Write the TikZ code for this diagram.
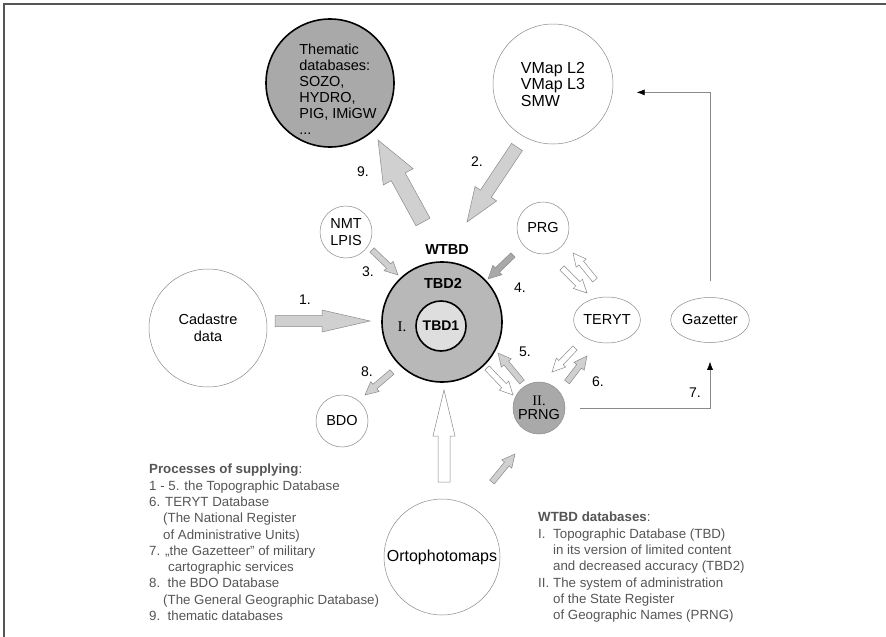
\documentclass[tikz,border=0pt]{standalone}
\usepackage{fontspec}
\setmainfont{Liberation Sans}
\newfontfamily\romfont{Liberation Serif}
\usetikzlibrary{calc,arrows.meta,shapes.geometric}

\definecolor{darkfill}{HTML}{A9A9A9}
\definecolor{midfill}{HTML}{B8B8B8}
\definecolor{lightfill}{HTML}{DEDEDE}
\definecolor{arrfill}{HTML}{D0D0D0}
\definecolor{arrline}{HTML}{8A8A8A}
\definecolor{legtext}{HTML}{555555}

% block arrow: [style]{tail}{tip}{shaft half width}{head half width}{head length}
\newcommand\fatarrow[6][]{%
  \path ($(#3)!#6!(#2)$) coordinate (fah);
  \draw[#1] ($(#2)!#4!90:(#3)$) -- ($(fah)!#4!-90:(#2)$) -- ($(fah)!#5!-90:(#2)$) -- (#3)
    -- ($(fah)!#5!90:(#2)$) -- ($(fah)!#4!90:(#2)$) -- ($(#2)!#4!-90:(#3)$) -- cycle;
}

\begin{document}
\begin{tikzpicture}[x=1pt,y=-1pt,
  db/.style={circle,draw=arrline,line width=0.5pt,fill=white,inner sep=0pt,align=center,
    font=\fontsize{14.5pt}{16.5pt}\selectfont},
  dbell/.style={ellipse,draw=arrline,line width=0.5pt,fill=white,inner sep=0pt,
    font=\fontsize{14.5pt}{16.5pt}\selectfont},
  core/.style={circle,draw=black,line width=1.6pt,inner sep=0pt},
  greyarr/.style={draw=arrline,fill=arrfill,line width=0.5pt},
  darkarr/.style={draw=arrline,fill=darkfill,line width=0.5pt},
  whitearr/.style={draw=arrline,fill=white,line width=0.5pt},
  num/.style={inner sep=0pt,font=\fontsize{14pt}{16pt}\selectfont},
  link/.style={draw=arrline,line width=0.6pt,-{Latex[color=black,length=8pt,width=6pt]}},
  legend/.style={align=left,inner sep=0pt,text=legtext,font=\fontsize{13.3pt}{16.3pt}\selectfont}]
\useasboundingbox (0,0) rectangle (886,637);
% frame
\draw[legtext,line width=2pt] (4,637) -- (4,4) -- (886,4);

% outer databases
\node[db,minimum size=128pt,fill=darkfill,draw=black,line width=1.6pt] (them) at (330,83) {};
\node[align=left,inner sep=0pt,font=\fontsize{14.5pt}{16pt}\selectfont] (themtxt) at ($(them)+(8,6)$)
  {Thematic\\databases:\\SOZO,\\HYDRO,\\PIG, IMiGW\\...};
\node[db,minimum size=120pt,align=left,font=\fontsize{16pt}{16.5pt}\selectfont] (vmap) at (553,84) {VMap L2\\VMap L3\\SMW};
\node[db,minimum size=52pt] (nmt) at (346,232) {NMT\\LPIS};
\node[db,minimum size=52pt] (prg) at (543,228) {PRG};
\node[db,minimum size=118pt] (cad) at (208,328) {Cadastre\\data};
\node[db,minimum size=52pt] (bdo) at (342,421) {BDO};
\node[dbell,minimum width=61pt,minimum height=46pt] (teryt) at (607,320) {TERYT};
\node[dbell,minimum width=74pt,minimum height=45pt] (gaz) at (710,320) {Gazetter};
\node[db,minimum size=52pt,fill=darkfill] (prng) at (539,408) {{\romfont II.}\\[-3pt]PRNG};
\node[db,minimum size=116pt,font=\fontsize{16pt}{18pt}\selectfont] (orto) at (442,557) {Ortophotomaps};

% WTBD core
\node[core,minimum size=120pt,fill=midfill] (wtbd) at (442,322) {};
\node[core,minimum size=50pt,fill=lightfill,font=\bfseries\fontsize{14pt}{16pt}\selectfont] (tbd1) at (441,326) {TBD1};
\node[inner sep=0pt,font=\bfseries\fontsize{14.5pt}{16pt}\selectfont] (wtbdlbl) at (447,250) {WTBD};
\node[inner sep=0pt,font=\bfseries\fontsize{14.5pt}{16pt}\selectfont] (tbd2lbl) at (443,283) {TBD2};
\node[inner sep=0pt,font=\romfont\fontsize{15pt}{16pt}\selectfont] (onelbl) at (402,327) {I.};

% block arrows
\coordinate (s1) at (275,321); \coordinate (e1) at (370,321);
\fatarrow[greyarr]{s1}{e1}{5.5pt}{11pt}{48pt}
\coordinate (s2) at (517,147); \coordinate (e2) at (467,222);
\fatarrow[greyarr]{s2}{e2}{6.5pt}{13pt}{34pt}
\coordinate (s9) at (423,222); \coordinate (e9) at (378,140);
\fatarrow[greyarr]{s9}{e9}{8pt}{17pt}{42pt}
\coordinate (s3) at (372,250); \coordinate (e3) at (398,275);
\fatarrow[greyarr]{s3}{e3}{3pt}{6.5pt}{13pt}
\coordinate (s8) at (392,372); \coordinate (e8) at (365,395);
\fatarrow[greyarr]{s8}{e8}{3pt}{6.5pt}{13pt}
\coordinate (s4) at (513,255); \coordinate (e4) at (488,279);
\fatarrow[darkarr]{s4}{e4}{3pt}{6.5pt}{13pt}
\coordinate (sa) at (562,268); \coordinate (ea) at (587,293);
\fatarrow[whitearr]{sa}{ea}{3pt}{6.5pt}{13pt}
\coordinate (sb) at (595,280); \coordinate (eb) at (573,253);
\fatarrow[whitearr]{sb}{eb}{3pt}{6.5pt}{13pt}
\coordinate (sc) at (575,348); \coordinate (ec) at (552,372);
\fatarrow[whitearr]{sc}{ec}{3pt}{6.5pt}{13pt}
\coordinate (s6) at (567,382); \coordinate (e6) at (587,356);
\fatarrow[greyarr]{s6}{e6}{3pt}{6.5pt}{13pt}
\coordinate (sd) at (487,368); \coordinate (ed) at (513,395);
\fatarrow[whitearr]{sd}{ed}{3pt}{6.5pt}{13pt}
\coordinate (s5) at (522,382); \coordinate (e5) at (498,353);
\fatarrow[greyarr]{s5}{e5}{3pt}{6.5pt}{13pt}
\coordinate (so) at (444,482); \coordinate (eo) at (444,390);
\fatarrow[whitearr]{so}{eo}{6pt}{11pt}{46pt}
\coordinate (sp) at (492,482); \coordinate (ep) at (515,454);
\fatarrow[greyarr]{sp}{ep}{3pt}{6.5pt}{13pt}

% thin links
\draw[link,shorten <=15pt,shorten >=19pt] (prng.east) -| (gaz.south);
\draw[link,shorten <=16pt,shorten >=24pt] (gaz.north) |- (vmap.-8);

% process numbers
\node[num] (n1) at (305,300) {1.};
\node[num] (n2) at (477,162) {2.};
\node[num] (n3) at (368,272) {3.};
\node[num] (n4) at (520,288) {4.};
\node[num] (n5) at (525,352) {5.};
\node[num] (n6) at (598,382) {6.};
\node[num] (n7) at (695,393) {7.};
\node[num] (n8) at (367,372) {8.};
\node[num] (n9) at (363,172) {9.};

% legends
\node[legend,anchor=north west] (procleg) at (149,464) {%
  \textbf{Processes of supplying}:\\
  1 - 5. the Topographic Database\\
  6. TERYT Database\\
  \hspace*{14pt}(The National Register\\
  \hspace*{14pt}of Administrative Units)\\
  7. „the Gazetteer” of military\\
  \hspace*{19pt}cartographic services\\
  8.\ \ the BDO Database\\
  \hspace*{14pt}(The General Geographic Database)\\
  9.\ \ thematic databases};
\node[legend,anchor=north west] (wtbdleg) at (538,512) {%
  \textbf{WTBD databases}:\\
  \makebox[15pt][l]{I.}Topographic Database (TBD)\\
  \hspace*{15pt}in its version of limited content\\
  \hspace*{15pt}and decreased accuracy (TBD2)\\
  \makebox[15pt][l]{II.}The system of administration\\
  \hspace*{15pt}of the State Register\\
  \hspace*{15pt}of Geographic Names (PRNG)};
\end{tikzpicture}
\end{document}
